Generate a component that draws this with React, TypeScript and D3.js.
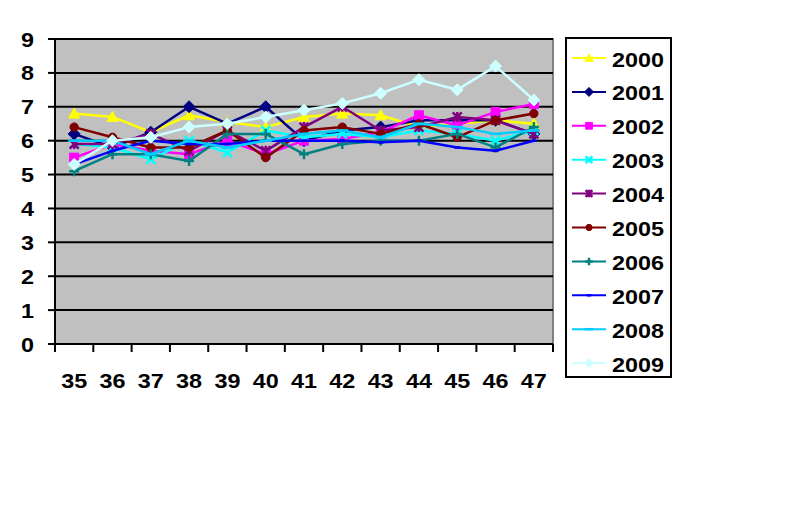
import React from "react";
import * as d3 from "d3";

const categories = ["35", "36", "37", "38", "39", "40", "41", "42", "43", "44", "45", "46", "47"];
const yTicks = [0, 1, 2, 3, 4, 5, 6, 7, 8, 9];
const seriesNames = ["2000", "2001", "2002", "2003", "2004", "2005", "2006", "2007", "2008", "2009"];
const seriesColors = ["#FFFF00", "#000080", "#FF00FF", "#00FFFF", "#800080", "#800000", "#008080", "#0000FF", "#00CCFF", "#CCFFFF"];
const seriesMarkers = ["triangle", "diamond", "square", "x", "asterisk", "circle", "plus", "shortbar", "longbar", "diamond"];

const s2000 = [6.8, 6.7, 6.25, 6.75, 6.55, 6.4, 6.7, 6.8, 6.75, 6.4, 6.5, 6.6, 6.5];
const s2001 = [6.2, 5.8, 6.25, 7.0, 6.5, 7.0, 6.0, 6.3, 6.4, 6.6, 6.6, 6.6, 6.2];
const s2002 = [5.5, 5.9, 5.7, 5.6, 6.0, 5.6, 6.0, 6.05, 6.25, 6.75, 6.45, 6.85, 7.08];
const s2003 = [5.9, 5.8, 5.45, 6.0, 5.65, 6.3, 6.1, 6.2, 6.1, 6.3, 6.2, 6.0, 6.3];
const s2004 = [5.9, 5.9, 6.2, 5.7, 6.3, 5.7, 6.4, 7.0, 6.3, 6.4, 6.7, 6.6, 6.2];
const s2005 = [6.4, 6.1, 5.8, 5.8, 6.3, 5.5, 6.3, 6.4, 6.2, 6.5, 6.1, 6.6, 6.8];
const s2006 = [5.1, 5.6, 5.6, 5.4, 6.2, 6.2, 5.6, 5.9, 6.0, 6.0, 6.2, 5.8, 6.4];
const s2007 = [5.3, 5.7, 6.0, 5.9, 5.9, 6.0, 6.0, 6.0, 5.95, 6.0, 5.8, 5.7, 6.0];
const s2008 = [6.0, 6.0, 5.6, 6.0, 5.8, 6.0, 6.2, 6.3, 6.1, 6.5, 6.4, 6.2, 6.3];
const s2009 = [5.3, 6.0, 6.1, 6.4, 6.5, 6.7, 6.9, 7.1, 7.4, 7.8, 7.5, 8.2, 7.2];
const seriesValues = [s2000, s2001, s2002, s2003, s2004, s2005, s2006, s2007, s2008, s2009];

const FONT = "'Liberation Sans', Arial, sans-serif";
const STRETCH = 1.14;
const FS = 20.5;

function markerPath(kind: string): { d: string; fill: boolean } {
  switch (kind) {
    case "triangle":
      return { d: "M0,-5.5L5.5,4.5L-5.5,4.5Z", fill: true };
    case "diamond":
      return { d: "M0,-6L6,0L0,6L-6,0Z", fill: true };
    case "square":
      return { d: "M-4.5,-4.5H4.5V4.5H-4.5Z", fill: true };
    case "circle":
      return { d: d3.symbol(d3.symbolCircle, 55)() as string, fill: true };
    case "x":
      return { d: "M-4.5,-4.5L4.5,4.5M4.5,-4.5L-4.5,4.5", fill: false };
    case "asterisk":
      return { d: "M-4.5,-4.5L4.5,4.5M4.5,-4.5L-4.5,4.5M0,-5V5", fill: false };
    case "plus":
      return { d: "M-5,0H5M0,-5V5", fill: false };
    case "shortbar":
      return { d: "M-3,0H3", fill: false };
    case "longbar":
      return { d: "M-6,0H6", fill: false };
  }
  return { d: "", fill: false };
}

function Marker({ kind, color, x, y, s = 1 }: { kind: string; color: string; x: number; y: number; s?: number }) {
  const m = markerPath(kind);
  return (
    <path
      d={m.d}
      transform={`translate(${x},${y}) scale(${s})`}
      fill={m.fill ? color : "none"}
      stroke={color}
      strokeWidth={(m.fill ? 1 : 2.5) / s}
    />
  );
}

export default function App() {
  const W = 797;
  const H = 525;
  const left = 55;
  const right = 553;
  const top = 39;
  const bottom = 344;

  const x = d3.scaleBand<string>().domain(categories).range([left, right]).padding(0);
  const y = d3.scaleLinear().domain([0, 9]).range([bottom, top]);
  const cx = (c: string) => (x(c) as number) + x.bandwidth() / 2;

  const line = d3
    .line<number>()
    .x((_, i) => cx(categories[i]))
    .y((v) => y(v));

  const legendX = 566;
  const legendY = 38;
  const legendW = 105;
  const legendH = 339;
  const legendStep = 33.9;
  const legendFirst = 58;

  return (
    <svg
      width={W}
      height={H}
      style={{ position: "absolute", left: 0, top: 0, background: "#fff" }}
    >
      <rect x={0} y={0} width={W} height={H} fill="#fff" />
      {/* plot area */}
      <rect x={left} y={top} width={right - left} height={bottom - top} fill="#C0C0C0" stroke="#808080" strokeWidth={2} />
      {yTicks.map((t) => (
        <line key={"g" + t} x1={left} x2={right} y1={y(t)} y2={y(t)} stroke="#000" strokeWidth={2} />
      ))}
      {/* axes */}
      <line x1={left} x2={left} y1={top} y2={bottom} stroke="#000" strokeWidth={2} />
      <line x1={left - 7} x2={right} y1={bottom} y2={bottom} stroke="#000" strokeWidth={2} />
      {yTicks.map((t) => (
        <g key={"yt" + t}>
          <line x1={left - 7} x2={left} y1={y(t)} y2={y(t)} stroke="#000" strokeWidth={2} />
          <text
            transform={`translate(34,${y(t) + 7.5}) scale(${STRETCH},1)`}
            textAnchor="end"
            fontFamily={FONT}
            fontWeight="bold"
            fontSize={FS}
          >
            {t}
          </text>
        </g>
      ))}
      {categories.map((c) => (
        <line
          key={"xt" + c}
          x1={x(c) as number}
          x2={x(c) as number}
          y1={bottom}
          y2={bottom + 8}
          stroke="#000"
          strokeWidth={2}
        />
      ))}
      <line x1={right} x2={right} y1={bottom} y2={bottom + 8} stroke="#000" strokeWidth={2} />
      {categories.map((c) => (
        <text
          key={"xl" + c}
          transform={`translate(${cx(c)},387.5) scale(${STRETCH},1)`}
          textAnchor="middle"
          fontFamily={FONT}
          fontWeight="bold"
          fontSize={FS}
        >
          {c}
        </text>
      ))}
      {/* series */}
      {seriesValues.map((vals, si) => (
        <g key={"s" + si}>
          <path d={line(vals) as string} fill="none" stroke={seriesColors[si]} strokeWidth={2.5} strokeLinejoin="round" />
          {vals.map((v, i) => (
            <Marker key={i} kind={seriesMarkers[si]} color={seriesColors[si]} x={cx(categories[i])} y={y(v)} />
          ))}
        </g>
      ))}
      {/* legend */}
      <rect x={legendX} y={legendY} width={legendW} height={legendH} fill="#fff" stroke="#000" strokeWidth={2} />
      {seriesNames.map((n, i) => {
        const ly = legendFirst + i * legendStep;
        return (
          <g key={"l" + n}>
            <line x1={572} x2={606} y1={ly} y2={ly} stroke={seriesColors[i]} strokeWidth={2} />
            <Marker kind={seriesMarkers[i]} color={seriesColors[i]} x={589} y={ly} s={0.75} />
            <text
              transform={`translate(612,${ly + 8.5}) scale(${STRETCH},1)`}
              fontFamily={FONT}
              fontWeight="bold"
              fontSize={FS}
            >
              {n}
            </text>
          </g>
        );
      })}
    </svg>
  );
}
